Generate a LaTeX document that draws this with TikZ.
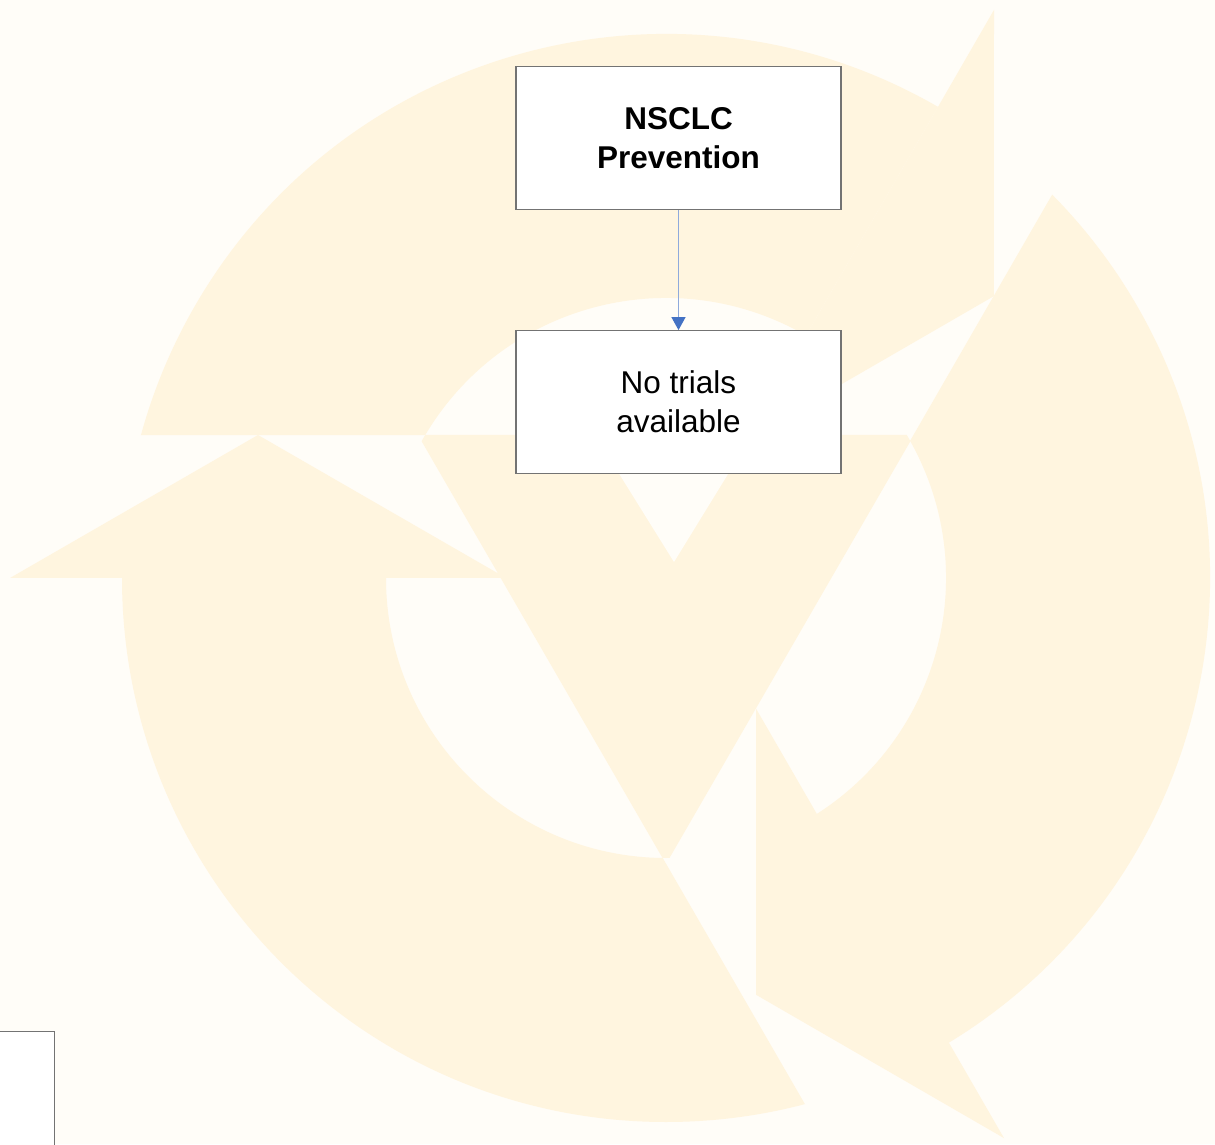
\documentclass[tikz,border=0pt]{standalone}
\usepackage{fontspec}
\setmainfont{Liberation Sans}
\usepackage{tikz}
\usetikzlibrary{positioning}
\usetikzlibrary{arrows.meta}
\definecolor{wmbg}{HTML}{FFFDF8}
\definecolor{wmyellow}{HTML}{FFF5DF}
\definecolor{boxgray}{HTML}{737373}
\definecolor{linkblue}{HTML}{8FAADC}
\definecolor{tipblue}{HTML}{4472C4}
\tikzstyle{bx}=[draw=boxgray,rectangle,fill=white,line width=1.2pt,minimum width=325pt,minimum height=143pt,inner sep=0pt,align=center,font=\fontsize{31.5}{39}\selectfont]
\tikzstyle{wm}=[fill=wmyellow]
\tikzstyle{link}=[draw=linkblue,line width=1.2pt,-{Triangle[length=13pt,width=14pt,color=tipblue]}]

\begin{document}
\begin{tikzpicture}[x=1pt,y=1pt]
\useasboundingbox (0,0) rectangle (1215,1144);
\clip (0,0) rectangle (1215,1144);
\fill[wmbg] (0,0) rectangle (1215,1144);
% watermark
\begin{scope}[shift={(666,566)}]
  \foreach \a in {0,-120,120}{
    \begin{scope}[rotate=\a]
      \clip (-800,0) -- (-165,0) -- (285,-779) -- (-800,-779) -- cycle;
      \fill[wm,even odd rule] (0,0) circle (544) (0,0) circle (280);
    \end{scope}
  }
  \begin{scope}
    \clip (0,0) circle (280);
    \fill[wm] (-248,143) -- (248,143) -- (0,-286) -- cycle;
  \end{scope}
  \fill[wmbg] (8,16) -- (-71,143) -- (86,143) -- cycle;
  \foreach \a in {0,-120}
    \fill[wm,rotate=\a] (-656,0) -- (-160,0) -- (-408,143) -- cycle;
  \fill[wm,shift={(10,8)},rotate=120] (-656,0) -- (-160,0) -- (-408,143) -- cycle;
\end{scope}

\node[bx] (prev) at (678.5,1006) {\textbf{NSCLC}\\\textbf{Prevention}};
\node[bx,below=120pt of prev] (none) {No trials\\available};
\draw[link] (prev) -- (none);
\node[bx,anchor=north east] (edge) at (55,113) {};
\end{tikzpicture}
\end{document}
